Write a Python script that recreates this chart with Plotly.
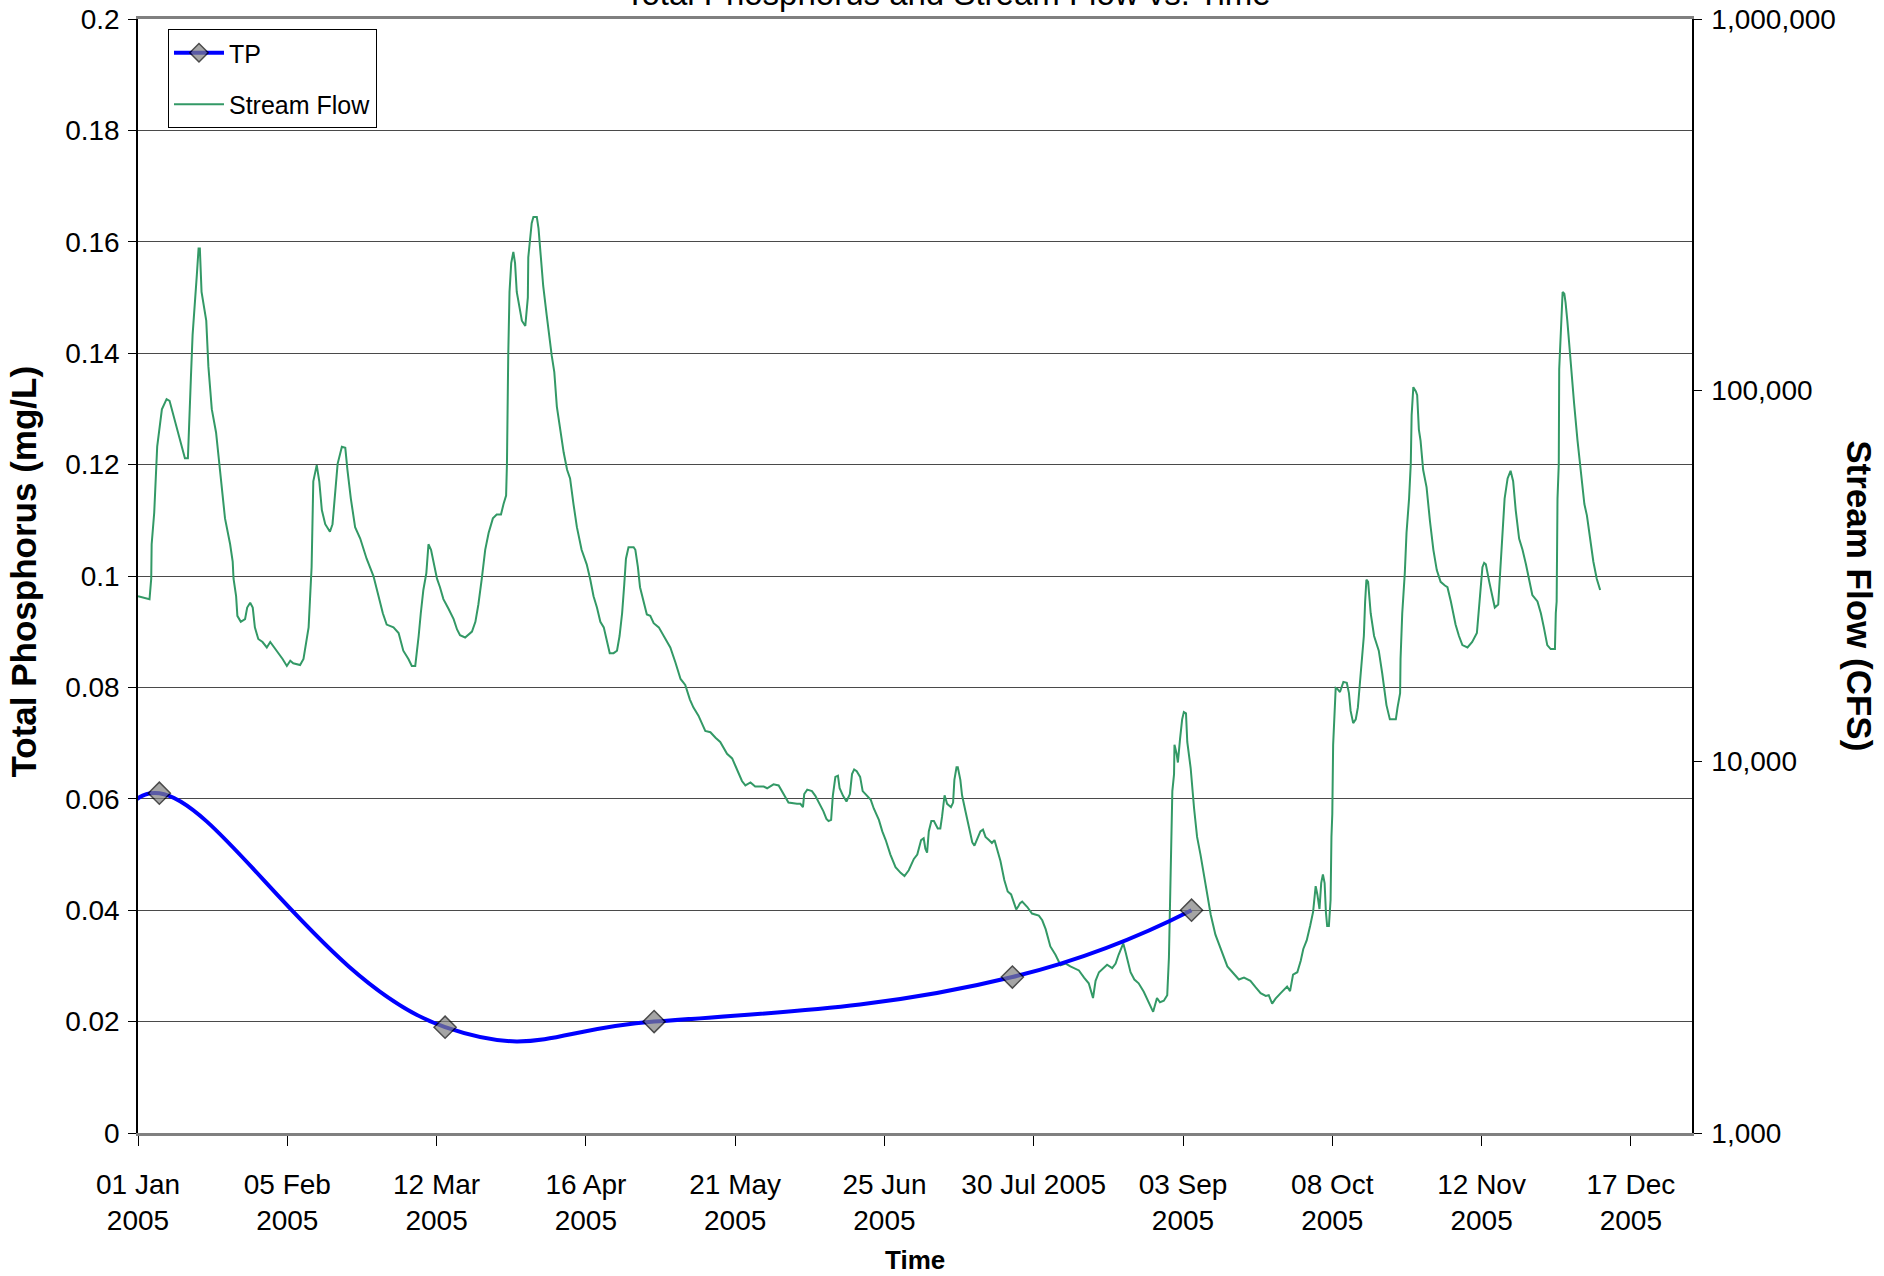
import pandas as pd
import plotly.graph_objects as go

# ---------------- data ----------------
tp_dates = ["2004-12-30", "2005-01-06", "2005-03-14", "2005-05-02", "2005-07-25", "2005-09-05"]
tp_values = [0.0585, 0.061, 0.019, 0.020, 0.028, 0.040]

# stream flow: days after 01 Jan 2005, CFS
flow_day = [
    0, 1.3, 2.7, 3.1, 3.2, 3.8, 4.5, 5.6, 6.7, 7.4, 9.2, 9.7, 11.0, 11.7, 12.0, 12.4, 12.8, 13.4, 13.8, 14.2,
    14.5, 14.9, 16.0, 16.5, 17.3, 18.3, 19.2, 20.4, 21.6, 22.2, 22.4, 23.0, 23.3, 24.1, 25.1, 25.6, 26.3, 26.9,
    27.4, 28.2, 29.2, 30.2, 31.0, 32.5, 33.9, 34.9, 35.7, 36.4, 38.0, 38.8, 39.4, 40.0, 40.3, 40.7, 41.1, 41.9,
    42.5, 43.1, 43.9, 45.0, 45.6, 46.2, 46.8, 47.8, 48.6, 49.1, 49.9, 50.9, 52.1, 53.6, 55.2, 56.4, 57.4, 58.3,
    59.9, 61.1, 62.2, 63.4, 64.2, 65.0, 65.4, 65.8, 66.3, 66.9, 67.6, 68.1, 68.7, 69.3, 70.1, 70.8, 71.6, 72.8,
    74.0, 74.8, 75.5, 76.7, 77.5, 78.3, 79.1, 79.8, 80.6, 81.4, 82.2, 83.2, 84.1, 85.1, 85.7, 86.3, 86.5, 86.6,
    86.8, 87.1, 87.5, 88.0, 88.4, 88.8, 89.5, 90.0, 90.8, 91.2, 91.4, 91.5, 91.9, 92.3, 92.7, 93.5, 93.9, 94.3,
    95.0, 95.8, 96.4, 97.0, 97.6, 98.2, 99.0, 99.8, 100.6, 101.3, 102.1, 102.9, 104.0, 105.2, 106.0, 106.8,
    107.6, 108.4, 109.2, 109.9, 110.6, 111.5, 112.3, 112.9, 113.5, 114.0, 114.4, 115.0, 116.2, 116.6, 117.2,
    117.7, 118.6, 119.3, 120.1, 120.9, 122.1, 123.2, 124.8, 126.0, 127.2, 128.3, 129.4, 130.2, 131.4, 133.0,
    134.2, 135.4, 136.5, 138.1, 139.3, 140.0, 140.8, 141.6, 142.4, 143.6, 144.7, 146.7, 147.5, 148.3, 149.0,
    150.2, 151.4, 152.5, 154.5, 155.3, 155.9, 156.2, 156.9, 158.0, 158.8, 159.6, 160.7, 161.4, 161.9, 162.5,
    162.9, 163.5, 164.1, 164.5, 165.3, 166.1, 166.9, 167.4, 167.9, 168.5, 169.3, 169.9, 170.9, 171.8, 172.5,
    173.7, 174.5, 175.3, 176.4, 177.6, 178.8, 179.7, 180.7, 181.9, 182.7, 183.6, 184.2, 184.6, 185.0, 185.4,
    186.0, 186.6, 187.5, 188.1, 188.5, 189.1, 189.7, 190.6, 191.1, 191.4, 191.9, 192.2, 192.8, 193.2, 194.0,
    195.0, 195.6, 196.1, 196.7, 197.5, 198.1, 198.7, 199.5, 200.2, 200.8, 201.4, 202.2, 203.1, 203.9, 204.7,
    205.3, 205.9, 206.4, 206.8, 207.3, 208.5, 209.6, 211.2, 212.0, 212.8, 213.9, 215.1, 216.3, 217.5, 218.6,
    220.6, 221.8, 222.9, 223.9, 224.5, 225.3, 226.4, 227.2, 228.4, 229.2, 229.9, 231.0, 231.5, 232.7, 233.6,
    234.6, 235.8, 237.0, 238.0, 238.9, 239.6, 240.5, 241.3, 241.7, 242.1, 242.5, 242.9, 243.0, 243.5, 243.8,
    244.3, 244.8, 245.2, 245.7, 246.0, 246.8, 247.6, 248.3, 249.1, 250.3, 251.5, 252.6, 253.8, 255.4, 256.6,
    258.1, 259.3, 260.8, 262.0, 263.2, 264.4, 265.1, 265.9, 266.7, 267.9, 268.7, 269.4, 270.1, 270.8, 271.8,
    272.6, 273.2, 274.0, 274.8, 275.5, 276.1, 276.5, 277.0, 277.4, 277.8, 278.2, 278.5, 278.8, 279.2, 279.6,
    279.8, 280.0, 280.2, 280.8, 281.2, 281.8, 282.6, 283.4, 283.9, 284.3, 284.9, 285.5, 286.0, 286.5, 287.0,
    287.4, 287.7, 288.0, 288.4, 289.0, 289.8, 290.9, 291.7, 292.7, 293.5, 294.9, 295.3, 295.9, 296.0, 296.4,
    297.0, 297.4, 298.0, 298.4, 298.6, 299.0, 299.6, 299.9, 300.3, 300.7, 301.3, 302.1, 302.9, 303.7, 304.5,
    305.4, 306.4, 307.0, 307.8, 308.9, 309.7, 310.5, 311.7, 312.8, 313.9, 314.3, 314.8, 315.2, 315.6, 316.0,
    316.8, 317.6, 318.1, 318.9, 319.3, 319.7, 320.1, 320.4, 321.1, 321.8, 322.4, 323.0, 323.8, 324.6, 325.4,
    326.1, 326.9, 328.1, 328.9, 329.6, 330.4, 331.2, 332.2, 332.4, 332.6, 332.8, 333.1, 333.2, 333.6, 334.0,
    334.4, 334.7, 335.1, 335.5, 336.0, 336.7, 337.5, 338.3, 339.1, 339.7, 340.4, 341.2, 342.0, 342.8,
]
flow_cfs = [
    27900, 27700, 27400, 31100, 38500, 46800, 70500, 88900, 94700, 93700, 78400, 74300, 65600, 65600, 84200,
    108000, 141000, 184000, 205000, 241000, 241000, 184000, 154000, 116000, 89000, 77000, 61000, 45200, 38500,
    34600, 31100, 27900, 24700, 23800, 24200, 26000, 26800, 26000, 23000, 21400, 21000, 20300, 21000, 19900,
    18900, 18100, 18700, 18400, 18200, 18900, 20600, 23000, 27000, 33400, 56900, 62900, 56900, 47600, 43600,
    41600, 43600, 53000, 63400, 70500, 70000, 61100, 51100, 42800, 39900, 35200, 31600, 27900, 25100, 23400,
    23000, 22200, 19900, 18900, 18100, 18100, 19600, 21800, 25100, 29000, 32200, 38500, 37200, 34600, 31100,
    29500, 27400, 25800, 24200, 22700, 21900, 21600, 22000, 22400, 23800, 26500, 31100, 37200, 41300, 45200,
    46300, 46300, 49400, 52100, 63400, 84200, 124000, 184000, 220000, 236000, 220000, 184000, 163000, 154000,
    149000, 166000, 178000, 228000, 258000, 282000, 293000, 293000, 273000, 236000, 191000, 160000, 139000,
    124000, 112000, 90400, 78400, 68000, 61100, 57900, 49400, 42800, 37200, 34000, 31100, 27900, 26000, 23800,
    23000, 21000, 19600, 19600, 19900, 21800, 25100, 30000, 35200, 37800, 37800, 37200, 33400, 29500, 26500,
    24900, 24700, 23600, 23000, 21800, 20300, 18500, 16700, 16100, 14700, 14000, 13300, 12100, 12000, 11600,
    11300, 10500, 10200, 9780, 9260, 8870, 8630, 8790, 8570, 8570, 8480, 8570, 8690, 8630, 8180, 7760, 7700,
    7700, 7540, 8180, 8410, 8330, 8090, 7760, 7350, 7010, 6920, 6970, 8090, 9100, 9170, 8480, 8090, 7810, 8180,
    9260, 9530, 9420, 9100, 8330, 8090, 7890, 7480, 6970, 6490, 6150, 5620, 5200, 5020, 4920, 5100, 5470, 5620,
    6150, 6220, 5830, 5690, 6490, 6920, 6920, 6610, 6610, 7100, 8120, 7700, 7540, 7760, 8930, 9660, 9660, 8930,
    8120, 7350, 6490, 6060, 5940, 6150, 6490, 6560, 6270, 6150, 6040, 6150, 5830, 5400, 4800, 4470, 4390, 4160,
    4000, 4080, 4160, 4200, 4060, 3900, 3850, 3740, 3540, 3180, 3020, 2830, 2860, 2810, 2740, 2620, 2530, 2310,
    2570, 2710, 2780, 2840, 2780, 2860, 3020, 3240, 3080, 2710, 2590, 2530, 2400, 2250, 2120, 2310, 2250, 2270,
    2350, 2970, 5430, 8330, 9260, 11100, 10500, 9950, 11500, 13000, 13600, 13500, 11300, 9600, 7480, 6270, 5620,
    4620, 3870, 3420, 3130, 2810, 2710, 2590, 2620, 2570, 2470, 2380, 2340, 2350, 2230, 2300, 2380, 2440, 2480,
    2410, 2670, 2710, 2910, 3130, 3300, 3610, 3940, 4620, 4390, 4010, 4710, 4970, 4710, 3940, 3610, 3610, 4240,
    6270, 7220, 11100, 15800, 15700, 15400, 16400, 16300, 15300, 13700, 12700, 13000, 14000, 16700, 19600,
    21800, 27000, 30900, 30500, 25100, 21800, 19900, 17300, 14200, 13000, 13000, 14000, 15300, 18900, 25100,
    32200, 41300, 51100, 63400, 85700, 102000, 99300, 97000, 78400, 73100, 61100, 54900, 44400, 37200, 32800,
    30500, 29800, 29500, 27000, 23400, 21800, 20600, 20300, 21000, 22200, 25100, 29000, 33400, 34300, 34000,
    30500, 27900, 26000, 26500, 32200, 38500, 44400, 51100, 57900, 60700, 56900, 47600, 39900, 37200, 34000,
    31100, 28100, 27000, 25100, 23000, 20600, 20100, 20100, 25100, 27000, 51100, 63400, 114000, 154000, 184000,
    182000, 172000, 154000, 134000, 114000, 92000, 73100, 59000, 49400, 46000, 40600, 34600, 31100, 29000,
]

x_tick_dates = ["2005-01-01", "2005-02-05", "2005-03-12", "2005-04-16", "2005-05-21", "2005-06-25",
                "2005-07-30", "2005-09-03", "2005-10-08", "2005-11-12", "2005-12-17"]
x_tick_text = ["01 Jan<br>2005", "05 Feb<br>2005", "12 Mar<br>2005", "16 Apr<br>2005", "21 May<br>2005",
               "25 Jun<br>2005", "30 Jul 2005", "03 Sep<br>2005", "08 Oct<br>2005", "12 Nov<br>2005",
               "17 Dec<br>2005"]
tp_tick_vals = [0, 0.02, 0.04, 0.06, 0.08, 0.1, 0.12, 0.14, 0.16, 0.18, 0.2]
tp_tick_text = ["0", "0.02", "0.04", "0.06", "0.08", "0.1", "0.12", "0.14", "0.16", "0.18", "0.2"]
flow_tick_vals = [1000, 10000, 100000, 1000000]
flow_tick_text = ["1,000", "10,000", "100,000", "1,000,000"]

# ---------------- figure ----------------
FONT = "Liberation Sans, Arial, sans-serif"
start = pd.Timestamp("2005-01-01")
flow_x = [start + pd.Timedelta(days=d) for d in flow_day]
# first TP sample lies before the axis start: no marker drawn for it
tp_marker_sizes = [0] + [17] * (len(tp_values) - 1)

fig = go.Figure()
fig.add_trace(go.Scatter(
    x=flow_x, y=flow_cfs, name="Stream Flow", mode="lines", yaxis="y",
    line=dict(color="#339966", width=2), legendrank=2, legendgroup="flow",
))
fig.add_trace(go.Scatter(
    x=tp_dates, y=tp_values, name="TP", mode="lines+markers", yaxis="y2",
    line=dict(color="#0000FF", width=4, shape="spline", smoothing=1.3),
    marker=dict(symbol="diamond", size=tp_marker_sizes, color="#808080",
                line=dict(color="#000000", width=1.5)),
    legendrank=1, legendgroup="tp",
))

fig.update_layout(
    template="none",
    width=1884, height=1276,
    margin=dict(l=138, r=192, t=19, b=143, autoexpand=False),
    paper_bgcolor="white", plot_bgcolor="white",
    font=dict(family=FONT, size=28, color="black"),
    showlegend=True,
    legend=dict(
        x=0.0193, y=0.991, xanchor="left", yanchor="top",
        bgcolor="white", bordercolor="black", borderwidth=1,
        font=dict(family=FONT, size=25, color="black"),
        traceorder="grouped", tracegroupgap=16, itemwidth=50,
    ),
    xaxis=dict(
        type="date", range=["2005-01-01", "2005-12-31 08:00"],
        tickvals=x_tick_dates, ticktext=x_tick_text,
        ticks="outside", ticklen=10, tickcolor="black", tickwidth=1,
        ticklabelstandoff=14, automargin=False,
        showline=True, linecolor="#808080", linewidth=3, mirror=True,
        showgrid=False, zeroline=False,
        tickfont=dict(family=FONT, size=28, color="black"),
    ),
    yaxis=dict(
        type="log", range=[3, 6], side="right",
        tickvals=flow_tick_vals, ticktext=flow_tick_text,
        ticks="outside", ticklen=8, tickcolor="black", tickwidth=1,
        ticklabelstandoff=4, automargin=False,
        showline=True, linecolor="black", linewidth=1.5,
        showgrid=False, zeroline=False,
        tickfont=dict(family=FONT, size=28, color="black"),
    ),
    yaxis2=dict(
        overlaying="y", side="left", range=[0, 0.2],
        tickvals=tp_tick_vals, ticktext=tp_tick_text,
        ticks="outside", ticklen=8, tickcolor="black", tickwidth=1,
        ticklabelstandoff=3, automargin=False,
        showline=True, linecolor="black", linewidth=1.5,
        showgrid=True, gridcolor="#4a4a4a", gridwidth=1.3, zeroline=False,
        tickfont=dict(family=FONT, size=28, color="black"),
    ),
    annotations=[
        dict(text="Total Phosphorus and Stream Flow vs. Time", xref="paper", yref="paper",
             x=0.521, y=1, xanchor="center", yanchor="bottom", yshift=5, showarrow=False,
             font=dict(family=FONT, size=33, color="black")),
        dict(text="<b>Total Phosphorus (mg/L)</b>", xref="paper", yref="paper",
             x=-0.0734, y=0.504, xanchor="center", yanchor="middle", textangle=-90, showarrow=False,
             font=dict(family=FONT, size=35, color="black")),
        dict(text="<b>Stream Flow (CFS)</b>", xref="paper", yref="paper",
             x=1.108, y=0.482, xanchor="center", yanchor="middle", textangle=90, showarrow=False,
             font=dict(family=FONT, size=35, color="black")),
        dict(text="<b>Time</b>", xref="paper", yref="paper",
             x=0.5, y=-0.114, xanchor="center", yanchor="middle", showarrow=False,
             font=dict(family=FONT, size=26, color="black")),
    ],
)

fig.write_html("out.html", config={"displayModeBar": False},
               post_script="document.body.style.margin='0';")
